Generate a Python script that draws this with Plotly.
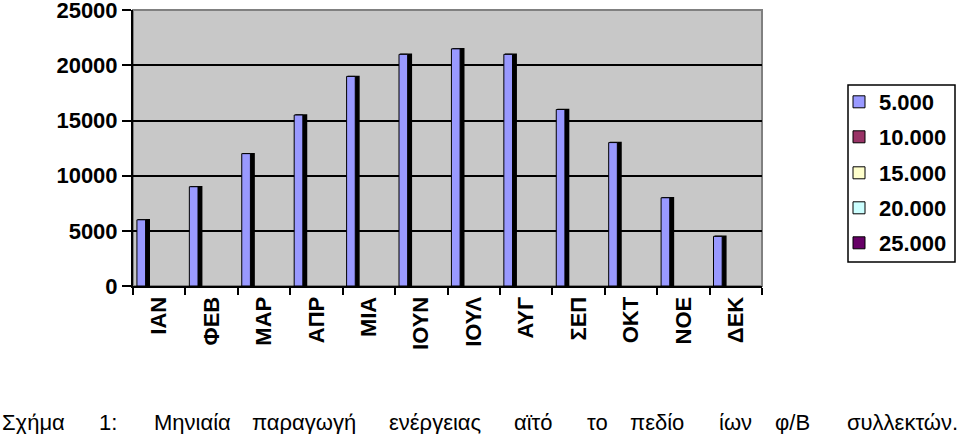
import plotly.graph_objects as go

months = ["ΙΑΝ", "ΦΕΒ", "ΜΑΡ", "ΑΠΡ", "ΜΙΑ", "ΙΟΥΝ", "ΙΟΥΛ", "ΑΥΓ", "ΣΕΠ", "ΟΚΤ", "ΝΟΕ", "ΔΕΚ"]
energy = [6000, 9000, 12000, 15500, 19000, 21000, 21500, 21000, 16000, 13000, 8000, 4500]
series_names = ["5.000", "10.000", "15.000", "20.000", "25.000"]
series_colors = ["#9999FF", "#993366", "#FFFFCC", "#CCFFFF", "#660066"]
y_ticks = [0, 5000, 10000, 15000, 20000, 25000]
caption_words = ["Σχήμα", "1:", "Μηνιαία", "παραγωγή", "ενέργειας", "αϊτό", "το", "πεδίο", "ίων", "φ/Β", "συλλεκτών."]
caption_px = [0, 97, 152, 250, 387, 512, 585, 628, 717, 773, 845]
legend_item_px = [102, 137, 173, 208, 243]

L, R, T, B = 133, 197, 10, 148
W, H = 959, 434
pw = W - L - R
ph = H - T - B


def px_x(px):
    return (px - L) / pw


def px_y(py):
    return (ph + T - py) / ph


FONT = "Liberation Sans, Arial, sans-serif"

fig = go.Figure()
# dark side (3D shadow) of bars
fig.add_trace(go.Bar(x=months, y=energy, width=0.2, offset=-0.39,
                     marker=dict(color="#000000", line=dict(color="#000000", width=1.5)),
                     showlegend=False, hoverinfo="skip"))
# front face + legend entries
legend_ids = ["legend", "legend2", "legend3", "legend4", "legend5"]
fig.add_trace(go.Bar(x=months, y=energy, width=0.165, offset=-0.425, name=series_names[0],
                     legend=legend_ids[0],
                     marker=dict(color=series_colors[0], line=dict(color="#000000", width=1))))
for nm, col, lid in zip(series_names[1:], series_colors[1:], legend_ids[1:]):
    fig.add_trace(go.Bar(x=[months[0]], y=[None], name=nm, legend=lid,
                         marker=dict(color=col, line=dict(color="#000000", width=1))))

legend_layout = {}
for lid, py in zip(legend_ids, legend_item_px):
    legend_layout[lid] = dict(x=px_x(839), y=px_y(py), xanchor="left", yanchor="middle",
                              bgcolor="rgba(0,0,0,0)", borderwidth=0, itemwidth=30,
                              font=dict(family=FONT, size=22, color="#000000", weight="bold"))

# legend box
fig.add_shape(type="rect", xref="paper", yref="paper", x0=px_x(848), y0=px_y(262), x1=px_x(955), y1=px_y(85),
              line=dict(color="#000000", width=1.5), fillcolor="#FFFFFF", layer="below")

for word, px in zip(caption_words, caption_px):
    fig.add_annotation(text=word, x=px_x(px), y=px_y(422), xref="paper", yref="paper",
                       xanchor="left", yanchor="middle", showarrow=False,
                       font=dict(family=FONT, size=22, color="#000000"))

fig.add_shape(type="rect", xref="paper", yref="paper", x0=0, y0=0, x1=1, y1=1,
              line=dict(color="#808080", width=2), layer="below")

fig.update_layout(
    width=W, height=H,
    margin=dict(l=L, r=R, t=T, b=B, autoexpand=False),
    paper_bgcolor="#FFFFFF", plot_bgcolor="#C8C8C8",
    barmode="overlay",
    font=dict(family=FONT, size=22, color="#000000"),
    xaxis=dict(type="category", categoryorder="array", categoryarray=months,
               tickangle=-90, tickson="boundaries", ticks="outside", ticklen=7, tickwidth=2,
               tickcolor="#000000", showline=True, linecolor="#000000", linewidth=2,
               showgrid=False, tickfont=dict(family=FONT, size=22, weight="bold")),
    yaxis=dict(range=[0, 25020], tickvals=y_ticks, ticktext=[str(v) for v in y_ticks],
               ticks="outside", ticklen=9, tickwidth=2, tickcolor="#000000",
               showline=True, linecolor="#000000", linewidth=2, ticklabeloverflow="allow",
               showgrid=True, gridcolor="#000000", gridwidth=2, zeroline=False,
               tickfont=dict(family=FONT, size=22, weight="bold")),
    **legend_layout,
)

fig.write_html("out.html", config={"displayModeBar": False},
               post_script="document.body.style.margin='0px';document.body.style.padding='0px';")
